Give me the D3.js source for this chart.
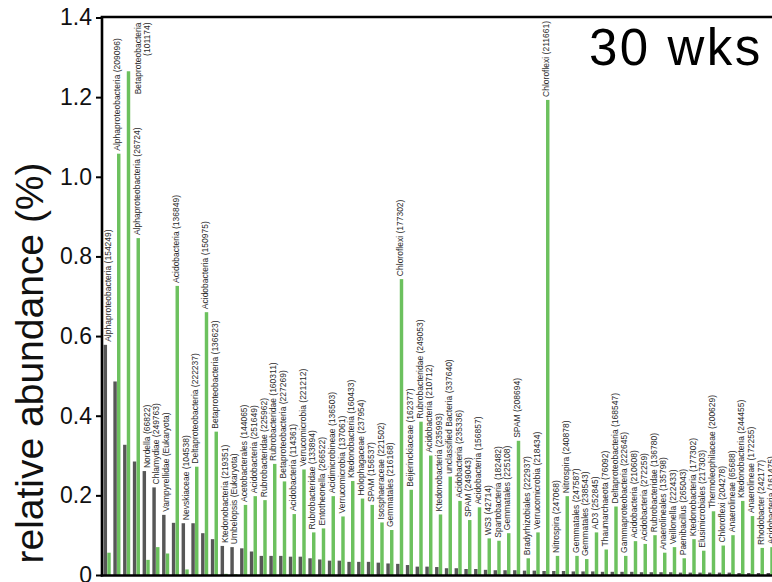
<!DOCTYPE html>
<html>
<head>
<meta charset="utf-8">
<script src="https://cdn.jsdelivr.net/npm/d3@7/dist/d3.min.js"></script>
<style>
  html, body { margin: 0; padding: 0; background: #fff; }
  svg { display: block; font-family: "Liberation Sans", Arial, Helvetica, sans-serif; }
</style>
</head>
<body>
<svg id="chart" width="772" height="582"></svg>
<script>
// Most abundant OTUs at 30 weeks, ranked; grey = previous sample, green = 30 wks
const categories = [
  "Alphaproteobacteria (154249)", "Alphaproteobacteria (209096)", "Betaproteobacteria (101174)",
  "Alphaproteobacteria (26724)", "Nordella (66822)", "Chlamydiae (249763)",
  "Vampyrellidae (Eukaryota)", "Acidobacteria (136849)", "Nevskiaceae (104538)",
  "Deltaproteobacteria (222237)", "Acidobacteria (150975)", "Betaproteobacteria (136623)",
  "Ktedonobacteria (219351)", "Umbelopsis (Eukaryota)", "Acetobacterales (144065)",
  "Acidobacteria (251649)", "Rubrobacteridae (225962)", "Rubrobacteridae (160311)",
  "Betaproteobacteria (227269)", "Acidobacteria (114361)", "Verrucomicrobia (221212)",
  "Rubrobacteridae (133894)", "Entotheonella (266522)", "Acidimicrobineae (136503)",
  "Verrucomicrobia (137061)", "Ktedonobacteria (160433)", "Holophagaceae (237954)",
  "SPAM (156537)", "Isosphaeraceae (221502)", "Gemmatales (216168)",
  "Chloroflexi (177302)", "Beijerinckiaceae (162377)", "Rubrobacteridae (249053)",
  "Acidobacteria (210712)", "Ktedonobacteria (235993)", "unclassified Bacteria (337640)",
  "Acidobacteria (235336)", "SPAM (249043)", "Acidobacteria (156857)",
  "WS3 (42714)", "Spartobacteria (182482)", "Gemmatales (225108)",
  "SPAM (208694)", "Bradyrhizobiales (222937)", "Verrucomicrobia (218434)",
  "Chloroflexi (211661)", "Nitrospira (247068)", "Nitrospira (240878)",
  "Gemmatales (247587)", "Gemmatales (238543)", "AD3 (252845)",
  "Thaumarchaeota (76092)", "Deltaproteobacteria (168547)", "Gammaproteobacteria (222645)",
  "Acidobacteria (210608)", "Acidobacteria (272259)", "Rubrobacteridae (136780)",
  "Anaerolineales (135798)", "Veillonella (222433)", "Paenibacillus (265043)",
  "Ktedonobacteria (177302)", "Elusimicrobiales (217303)", "Thermoleophilaceae (200629)",
  "Chloroflexi (204278)", "Anaerolineae (65688)", "Ktedonobacteria (244455)",
  "Anaerolineae (172255)", "Rhodobacter (242177)", "Acidobacteria (161475)"
];

const valuesGrey = [
  0.578, 0.486, 0.327, 0.285, 0.261, 0.220, 0.151, 0.131, 0.130, 0.130,
  0.105, 0.090, 0.073, 0.070, 0.067, 0.059, 0.048, 0.048, 0.048, 0.046,
  0.046, 0.042, 0.039, 0.036, 0.036, 0.033, 0.033, 0.033, 0.031, 0.029,
  0.028, 0.025, 0.021, 0.021, 0.020, 0.017, 0.017, 0.015, 0.015, 0.013,
  0.012, 0.012, 0.012, 0.011, 0.011, 0.010, 0.010, 0.010, 0.009, 0.009,
  0.009, 0.008, 0.008, 0.008, 0.008, 0.007, 0.007, 0.007, 0.007, 0.006,
  0.006, 0.006, 0.006, 0.006, 0.006, 0.005, 0.005, 0.005, 0.005
];

const valuesGreen = [
  0.056, 1.058, 1.265, 0.846, 0.038, 0.070, 0.054, 0.726, 0.014, 0.272,
  0.660, 0.360, 0.003, 0.002, 0.176, 0.198, 0.188, 0.279, 0.235, 0.153,
  0.265, 0.107, 0.117, 0.198, 0.147, 0.236, 0.192, 0.176, 0.132, 0.113,
  0.743, 0.214, 0.385, 0.300, 0.152, 0.247, 0.186, 0.138, 0.170, 0.092,
  0.086, 0.105, 0.337, 0.042, 0.107, 1.193, 0.048, 0.198, 0.048, 0.040,
  0.107, 0.064, 0.172, 0.048, 0.085, 0.078, 0.100, 0.056, 0.070, 0.042,
  0.090, 0.061, 0.160, 0.074, 0.100, 0.186, 0.148, 0.068, 0.070
];

const yTicks = [0, 0.2, 0.4, 0.6, 0.8, 1.0, 1.2, 1.4];
const yTickLabels = ["0", "0.2", "0.4", "0.6", "0.8", "1.0", "1.2", "1.4"];
const seriesNames = ["grey", "green"];
const seriesColors = ["#575757", "#6cc15e"];
const panelTitle = "30 wks";
const yTitle = "relative abundance (%)";

const svg = d3.select("#chart");
const axisX = 102;
const plotTop = 17.5, plotBottom = 575;
const step = 9.75, padIn = 0.27, bandStart = axisX + 1.6;

const y = d3.scaleLinear().domain([0, 1.4]).range([plotBottom, plotTop]);
const x0 = d3.scaleBand()
  .domain(categories)
  .range([bandStart, bandStart + step * (categories.length - padIn)])
  .paddingInner(padIn).paddingOuter(0);
const x1 = d3.scaleBand().domain(seriesNames).range([0, x0.bandwidth()]).paddingInner(0.06);
const color = d3.scaleOrdinal().domain(seriesNames).range(seriesColors);

const rows = categories.map((c, i) => ({
  name: c, grey: valuesGrey[i], green: valuesGreen[i]
}));

// bars
const groups = svg.append("g").selectAll("g").data(rows).join("g")
  .attr("transform", d => `translate(${x0(d.name)},0)`);
groups.selectAll("rect")
  .data(d => seriesNames.map(k => ({ key: k, value: d[k] })))
  .join("rect")
  .attr("x", d => x1(d.key))
  .attr("width", x1.bandwidth())
  .attr("y", d => y(d.value))
  .attr("height", d => y(0) - y(d.value))
  .attr("fill", d => color(d.key));

// OTU labels above the taller bar of each pair
const fs = 8.5;
const labels = svg.append("g")
  .attr("font-size", fs).attr("fill", "#2a2a2a");
rows.forEach(d => {
  const top = y(Math.max(d.grey, d.green)) - 3;
  const cx = x0(d.name) + x0.bandwidth() / 2 + 0.5;
  const t = labels.append("text")
    .attr("transform", `translate(${cx},${top}) rotate(-90)`)
    .attr("dy", "0.35em")
    .text(d.name);
  const len = t.node().getComputedTextLength();
  if (top - len < y(1.4) + 2) {
    // not enough room: split name and id, set beside the bar and hang from the top
    const m = d.name.match(/^(.*) (\(.*\))$/);
    t.text(null)
      .attr("transform", `translate(${cx},${y(1.4) + 5}) rotate(-90)`)
      .attr("dy", null)
      .attr("text-anchor", "end");
    t.append("tspan").attr("x", 0).attr("dy", "1.62em").text(m[1]);
    t.append("tspan").attr("x", 0).attr("dy", "1.12em").text(m[2]);
  }
});

// axes frame
const yAxis = d3.axisLeft(y).tickValues(yTicks)
  .tickFormat((v, i) => yTickLabels[i]).tickSize(6).tickPadding(4);
const gy = svg.append("g").attr("transform", `translate(${axisX},0)`).call(yAxis);
gy.select(".domain").remove();
gy.selectAll(".tick line").attr("stroke", "#000").attr("stroke-width", 2);
gy.selectAll(".tick text").attr("font-size", 23).attr("fill", "#111")
  .attr("font-family", "Liberation Sans, Arial, sans-serif");

svg.append("line").attr("x1", axisX).attr("x2", axisX)
  .attr("y1", y(1.4) - 1).attr("y2", y(0) + 1.5)
  .attr("stroke", "#000").attr("stroke-width", 2.6);
svg.append("line").attr("x1", axisX - 1.3).attr("x2", 772)
  .attr("y1", y(0) + 0.5).attr("y2", y(0) + 0.5)
  .attr("stroke", "#000").attr("stroke-width", 2.4);
svg.append("line").attr("x1", axisX - 1.3).attr("x2", 772)
  .attr("y1", y(1.4) - 0.5).attr("y2", y(1.4) - 0.5)
  .attr("stroke", "#000").attr("stroke-width", 2.4);

// titles
svg.append("text")
  .attr("transform", `translate(43,363) rotate(-90)`)
  .attr("text-anchor", "middle")
  .attr("font-size", 39).attr("fill", "#111")
  .text(yTitle);
svg.append("text")
  .attr("x", 589).attr("y", 65)
  .attr("font-size", 51).attr("letter-spacing", 2.5).attr("fill", "#000")
  .text(panelTitle);
</script>
</body>
</html>
